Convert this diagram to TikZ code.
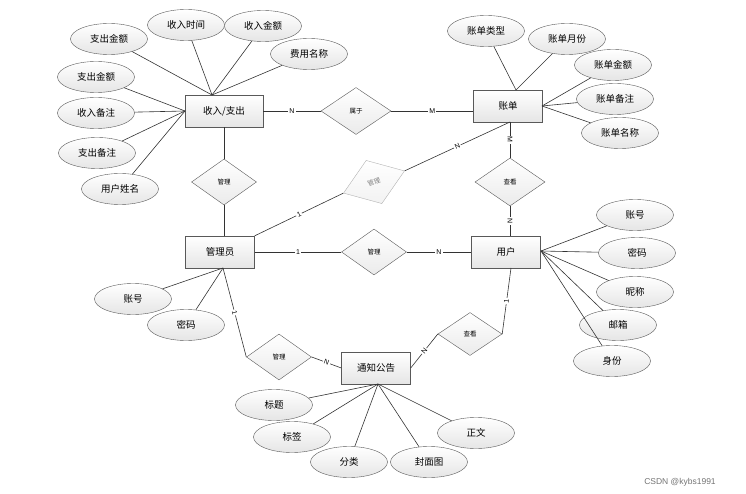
\documentclass[tikz,border=0pt]{standalone}
\usepackage{fontspec}
\newfontfamily\cjk{Noto Sans CJK SC}
\setsansfont{Liberation Sans}
\usetikzlibrary{shapes.geometric}

\begin{document}
\begin{tikzpicture}[
    x=1pt, y=-1pt,
    entity/.style={
        rectangle,
        draw=black!65,
        top color=white,
        bottom color=black!10,
        minimum width=69pt,
        minimum height=32pt,
        font=\cjk\fontsize{9.5}{10}\selectfont
    },
    attr/.style={
        ellipse,
        draw=black!65,
        top color=white,
        bottom color=black!10,
        minimum width=77pt,
        minimum height=31pt,
        inner sep=0pt,
        font=\cjk\fontsize{9.5}{10}\selectfont
    },
    rel/.style={
        diamond,
        draw=black!65,
        top color=white,
        bottom color=black!8,
        minimum width=65pt,
        minimum height=46pt,
        inner sep=0pt,
        font=\cjk\fontsize{6.5}{7}\selectfont
    },
    link/.style={draw=black!80, line width=0.6pt},
    card/.style={fill=white, inner sep=1pt, font=\sffamily\fontsize{7}{8}\selectfont}
]
\useasboundingbox (0,0) rectangle (746,494);

% entities
\node[entity, minimum width=78pt] (io) at (224,111) {收入/支出};
\node[entity] (zd) at (508,106) {账单};
\node[entity] (adm) at (220,252) {管理员};
\node[entity] (yh) at (506,252) {用户};
\node[entity] (tz) at (376,368) {通知公告};

% relations
\node[rel, minimum width=70pt, minimum height=47pt] (sy) at (356,111) {属于};
\node[rel] (gl1) at (224,182) {管理};
\node[rel, draw=black!30, top color=white, bottom color=black!5,
      text=black!50, rotate=20] (gl2) at (374,182) {管理};
\node[rel] (gl3) at (374,252) {管理};
\node[rel] (gl4) at (279,357) {管理};
\node[rel, minimum width=70pt, minimum height=48pt] (ck1) at (510,182) {查看};
\node[rel, minimum width=64pt, minimum height=43pt] (ck2) at (470,334) {查看};

% attributes of 收入/支出
\node[attr] (io1) at (109,39) {支出金额};
\node[attr] (io2) at (186,25) {收入时间};
\node[attr] (io3) at (263,26) {收入金额};
\node[attr] (io4) at (309,54) {费用名称};
\node[attr] (io5) at (96,77) {支出金额};
\node[attr] (io6) at (96,113) {收入备注};
\node[attr] (io7) at (97,153) {支出备注};
\node[attr] (io8) at (120,189) {用户姓名};

% attributes of 账单
\node[attr] (zd1) at (486,31) {账单类型};
\node[attr] (zd2) at (567,39) {账单月份};
\node[attr] (zd3) at (613,65) {账单金额};
\node[attr] (zd4) at (615,99) {账单备注};
\node[attr] (zd5) at (620,133) {账单名称};

% attributes of 管理员
\node[attr] (adm1) at (133,299) {账号};
\node[attr] (adm2) at (186,325) {密码};

% attributes of 用户
\node[attr] (yh1) at (635,215) {账号};
\node[attr] (yh2) at (637,253) {密码};
\node[attr] (yh3) at (635,292) {昵称};
\node[attr] (yh4) at (618,325) {邮箱};
\node[attr] (yh5) at (612,361) {身份};

% attributes of 通知公告
\node[attr] (tz1) at (274,405) {标题};
\node[attr] (tz2) at (292,437) {标签};
\node[attr] (tz3) at (349,462) {分类};
\node[attr] (tz4) at (429,462) {封面图};
\node[attr] (tz5) at (476,433) {正文};

% junction points
\coordinate (ioT) at (212,95);
\coordinate (ioL) at (185,111);
\coordinate (zdT) at (516,90);
\coordinate (zdR) at (542,106);
\coordinate (zdB) at (510,122);
\coordinate (admB) at (223,268);
\coordinate (yhR) at (541,251);
\coordinate (yhB) at (511,268);
\coordinate (tzB) at (378,384);

% attribute lines
\foreach \a in {io1,io2,io3,io4} \draw[link] (\a) -- (ioT);
\foreach \a in {io5,io6,io7,io8} \draw[link] (\a) -- (ioL);
\foreach \a in {zd1,zd2} \draw[link] (\a) -- (zdT);
\foreach \a in {zd3,zd4,zd5} \draw[link] (\a) -- (zdR);
\foreach \a in {adm1,adm2} \draw[link] (\a) -- (admB);
\foreach \a in {yh1,yh2,yh3,yh4,yh5} \draw[link] (\a) -- (yhR);
\foreach \a in {tz1,tz2,tz3,tz4,tz5} \draw[link] (\a) -- (tzB);

% relationship lines
\draw[link] (io) -- node[card] {N} (sy);
\draw[link] (sy) -- node[card] {M} (sy -| zd.west);
\draw[link] (io) -- (gl1);
\draw[link] (gl1) -- (gl1 |- adm.north);
\draw[link] (adm.north east) -- node[card, sloped] {1} (gl2.west);
\draw[link] (gl2.east) -- node[card, sloped] {N} (zdB);
\draw[link] (zdB) -- node[card, sloped] {M} (ck1);
\draw[link] (ck1) -- node[card, sloped] {N} (ck1 |- yh.north);
\draw[link] (adm) -- node[card] {1} (gl3);
\draw[link] (gl3) -- node[card] {N} (yh);
\draw[link] (admB) -- node[card, sloped] {1} (gl4.west);
\draw[link] (gl4.east) -- node[card, sloped] {N} (tz.west);
\draw[link] (tz.east) -- node[card, sloped] {N} (ck2.west);
\draw[link] (ck2.east) -- node[card, sloped] {1} (yhB);

% watermark
\node[font=\sffamily\fontsize{8.5}{9}\selectfont, text=black!55] (wm) at (680,482) {CSDN @kybs1991};

\end{tikzpicture}
\end{document}
